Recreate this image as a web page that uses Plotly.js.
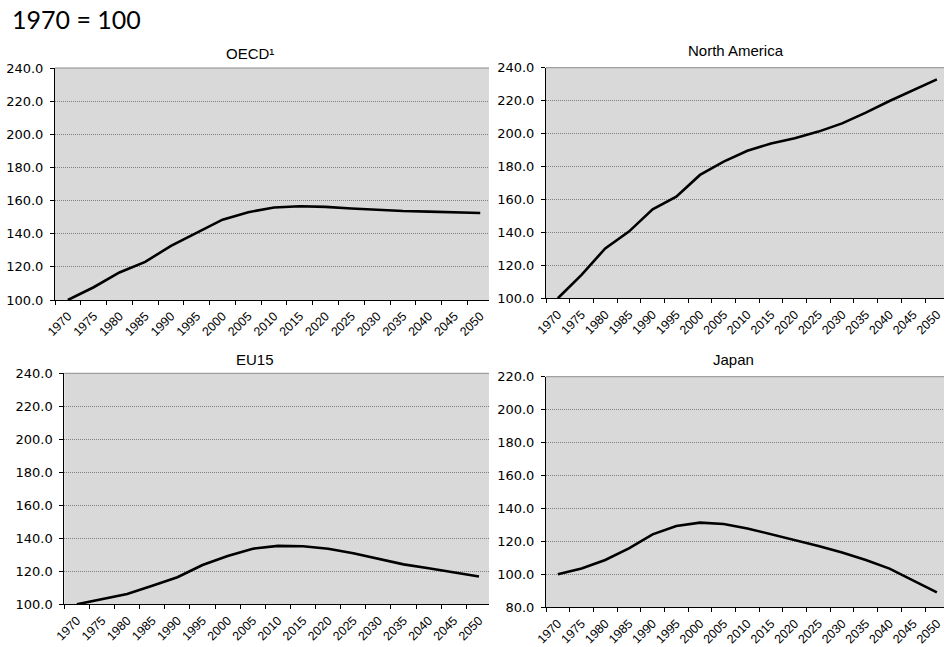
<!DOCTYPE html>
<html>
<head>
<meta charset="utf-8">
<script src="https://cdn.plot.ly/plotly-3.0.1.min.js"></script>
<style>
html,body{margin:0;padding:0;background:#fff;}
#chart{width:946px;height:647px;}
</style>
</head>
<body>
<div id="chart"></div>
<script>
const years = ['1970','1975','1980','1985','1990','1995','2000','2005','2010','2015','2020','2025','2030','2035','2040','2045','2050'];
const oecd = [100.0, 107.7, 116.6, 123.0, 132.7, 140.4, 148.5, 153.0, 155.8, 156.6, 156.2, 155.2, 154.3, 153.7, 153.3, 152.9, 152.5];
const northAmerica = [100.0, 114.2, 130.3, 140.5, 154.0, 161.7, 174.9, 183.0, 189.6, 194.0, 197.1, 201.2, 206.2, 212.7, 219.8, 226.4, 232.9];
const eu15 = [100.0, 103.0, 106.3, 111.3, 116.4, 123.8, 129.3, 133.7, 135.4, 135.2, 133.7, 130.9, 127.5, 124.2, 121.8, 119.2, 116.8];
const japan = [100.0, 103.5, 108.7, 115.8, 124.3, 129.4, 131.4, 130.6, 127.9, 124.3, 120.9, 117.2, 113.2, 108.7, 103.5, 96.2, 89.1];
const panelTitles = ['OECD\u00b9', 'North America', 'EU15', 'Japan'];
const mainTitle = '1970 = 100';

const W = 946, H = 647;
const series = [oecd, northAmerica, eu15, japan];
// panel geometry in pixels: left, right, top, bottom, x-range end, y-range
const panels = [
  {l:55,  r:489, t:68,    b:300,   xend:16.34, yr:[100,240], tx:250,   ty:53},
  {l:546, r:944, t:67.7,  b:298.3, xend:16.30, yr:[100,240], tx:736,   ty:50},
  {l:64.3,r:489, t:373.3, b:604.3, xend:16.40, yr:[100,240], tx:255,   ty:359},
  {l:546, r:944, t:376.7, b:607.3, xend:16.30, yr:[80,220],  tx:733,   ty:359}
];

const traces = [];
const layout = {
  width: W, height: H,
  margin: {l:0, r:0, t:0, b:0},
  paper_bgcolor: '#ffffff',
  showlegend: false,
  shapes: [],
  annotations: []
};

panels.forEach((p, i) => {
  const n = i === 0 ? '' : String(i + 1);
  traces.push({
    type: 'scatter', mode: 'lines',
    x: years, y: series[i],
    xaxis: 'x' + n, yaxis: 'y' + n,
    line: {color: '#000000', width: 2.6},
    cliponaxis: false,
    hoverinfo: 'x+y'
  });
  layout['xaxis' + n] = {
    type: 'category',
    domain: [p.l / W, p.r / W],
    range: [-0.5, p.xend],
    anchor: 'y' + n,
    tickmode: 'linear', tick0: 0, dtick: 1,
    tickson: 'boundaries',
    ticks: 'outside', ticklen: 4, tickcolor: '#000', tickwidth: 1,
    ticklabelstandoff: 3,
    showline: true, linecolor: '#000', linewidth: 1,
    showgrid: false, zeroline: false,
    tickangle: -45,
    tickfont: {family: 'Liberation Sans', size: 12.5, color: '#000'},
    fixedrange: true
  };
  layout['yaxis' + n] = {
    domain: [1 - p.b / H, 1 - p.t / H],
    range: p.yr,
    anchor: 'x' + n,
    tickmode: 'linear', tick0: p.yr[0], dtick: 20,
    tickformat: '.1f',
    ticks: 'outside', ticklen: 4, tickcolor: '#000', tickwidth: 1,
    ticklabelstandoff: 4,
    showline: true, linecolor: '#000', linewidth: 1,
    showgrid: true, gridcolor: '#7f7f7f', gridwidth: 1, griddash: '1px,1px',
    zeroline: false,
    tickfont: {family: 'DejaVu Sans', size: 13, color: '#000'},
    fixedrange: true
  };
  layout.shapes.push({
    type: 'rect', xref: 'x' + n + ' domain', yref: 'y' + n + ' domain',
    x0: 0, x1: 1, y0: 0, y1: 1, layer: 'below',
    fillcolor: '#d9d9d9', line: {width: 0}
  });
  layout.shapes.push({
    type: 'line', xref: 'x' + n + ' domain', yref: 'y' + n + ' domain',
    x0: 0, x1: 1, y0: 1, y1: 1,
    line: {color: '#8c8c8c', width: 1}
  });
  layout.annotations.push({
    text: panelTitles[i], showarrow: false,
    xref: 'paper', yref: 'paper',
    x: p.tx / W, y: 1 - p.ty / H, xanchor: 'center', yanchor: 'middle',
    font: {family: 'Liberation Sans', size: 15, color: '#000'}
  });
});

layout.annotations.push({
  text: mainTitle, showarrow: false,
  xref: 'paper', yref: 'paper',
  x: 10 / W, y: 1 - 19 / H, xanchor: 'left', yanchor: 'middle',
  font: {family: 'Lato', size: 25, color: '#000'}
});

Plotly.newPlot('chart', traces, layout, {displayModeBar: false, staticPlot: true});
</script>
</body>
</html>
